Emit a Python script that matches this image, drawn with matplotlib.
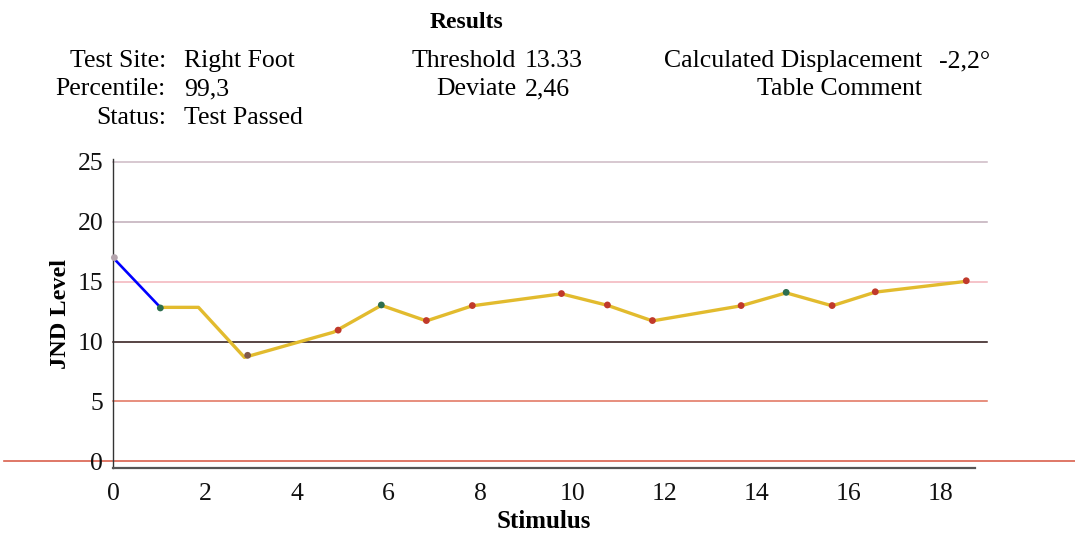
import matplotlib
matplotlib.use("Agg")
import matplotlib.pyplot as plt
from matplotlib.transforms import blended_transform_factory

plt.rcParams['font.family'] = ['Liberation Serif', 'DejaVu Serif']

# staircase (line) data
start_x = [0.0, 1.03]
start_y = [17.0, 12.85]
stair_x = [1.03, 1.86, 2.86, 4.80, 5.84, 6.82, 7.82, 9.76, 10.76, 11.74,
           13.67, 14.65, 15.65, 16.59, 18.57]
stair_y = [12.85, 12.85, 8.68, 10.78, 13.02, 11.72, 12.98, 13.98, 13.02, 11.72,
           12.98, 14.06, 12.98, 14.12, 15.02]

# response markers
resp_x = [0.03, 1.03, 2.93, 4.90, 5.84, 6.82, 7.82, 9.76, 10.76, 11.74,
          13.67, 14.65, 15.65, 16.59, 18.57]
resp_y = [17.0, 12.8, 8.85, 10.95, 13.05, 11.75, 13.0, 14.0, 13.05, 11.75,
          13.0, 14.1, 13.0, 14.15, 15.07]
resp_c = ['#b5a5ae', '#2d6e4e', '#80584a', '#c0392b', '#2d6e4e', '#c0392b',
          '#c0392b', '#c0392b', '#c0392b', '#c0392b', '#c0392b', '#2d6e4e',
          '#c0392b', '#c0392b', '#c0392b']

# reference levels
ref_levels = [25, 20, 15, 10, 5]
ref_colors = ['#cdb9c4', '#c0acb8', '#f2b3bb', '#2a1212', '#e0705a']
zero_level = 0

x_ticks = [0, 2, 4, 6, 8, 10, 12, 14, 16, 18]
y_ticks = [0, 5, 10, 15, 20, 25]

header_left = [("Test Site:", "Right Foot"), ("Percentile:", "99,3"), ("Status:", "Test Passed")]
header_mid = [("Threshold", "13.33"), ("Deviate", "2,46")]
header_right = [("Calculated Displacement", "-2,2°"), ("Table Comment", "")]

fig = plt.figure(figsize=(10.75, 5.34), dpi=100)
ax = fig.add_axes([113/1075, 1-468/534, (975-113)/1075, (468-159.3)/534])

ax.set_xlim(0, 18.76)
ax.set_ylim(-0.55, 25.2)

for lvl, c in zip(ref_levels, ref_colors):
    ax.plot([0, 19.02], [lvl, lvl], color=c, lw=1.1, clip_on=False, zorder=1)
tr = blended_transform_factory(fig.transFigure, ax.transData)
ax.plot([0.004, 1.0], [zero_level, zero_level], color='#d9604d', lw=1.2,
        transform=tr, clip_on=False, zorder=1)

ax.plot(start_x, start_y, color='#0000ff', lw=1.9, zorder=3)
ax.plot(stair_x, stair_y, color='#e2bb2e', lw=2.4, zorder=3)
ax.scatter(resp_x, resp_y, c=resp_c, s=24, zorder=5, linewidths=0, clip_on=False)

ax.spines['top'].set_visible(False)
ax.spines['right'].set_visible(False)
ax.spines['left'].set_color('#333333')
ax.spines['left'].set_linewidth(1.0)
ax.spines['bottom'].set_color('#555555')
ax.spines['bottom'].set_linewidth(1.6)

ax.set_xticks(x_ticks)
ax.set_yticks(y_ticks)
ax.tick_params(length=0, labelsize=18.5, colors='#111111')
ax.tick_params(axis='y', pad=7)
ax.tick_params(axis='x', pad=11)

ax.set_xlabel("Stimulus", fontsize=18, fontweight='bold', labelpad=3.5)
ax.set_ylabel("JND Level", fontsize=17.5, fontweight='bold', labelpad=5)

fig.text(466/1075, 1-23/534, "Results", ha='center', va='center', fontsize=17, fontweight='bold')
rows_y = [61, 89, 118]
fs = 18.5
for (lab, val), yy in zip(header_left, rows_y):
    fig.text(166/1075, 1-yy/534, lab, ha='right', va='center', fontsize=fs)
    fig.text(184/1075, 1-yy/534, val, ha='left', va='center', fontsize=fs)
for (lab, val), yy in zip(header_mid, rows_y):
    fig.text(516/1075, 1-yy/534, lab, ha='right', va='center', fontsize=fs)
    fig.text(525/1075, 1-yy/534, val, ha='left', va='center', fontsize=fs)
for (lab, val), yy in zip(header_right, rows_y):
    fig.text(922/1075, 1-yy/534, lab, ha='right', va='center', fontsize=fs)
    if val:
        fig.text(939/1075, 1-yy/534, val, ha='left', va='center', fontsize=fs)

fig.savefig("out.png", dpi=100)
